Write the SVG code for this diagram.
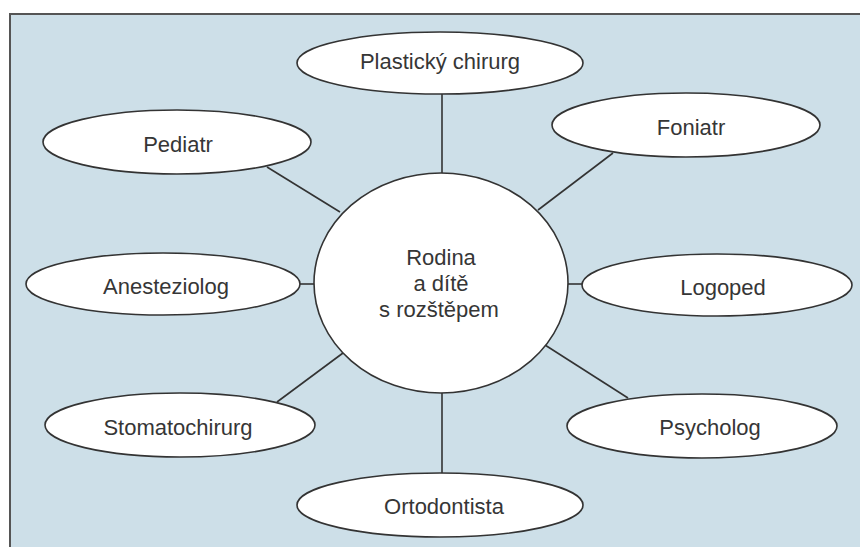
<svg xmlns="http://www.w3.org/2000/svg" width="860" height="547" viewBox="0 0 860 547">
<style>
.bg{fill:#cddfe8;stroke:none}
.frame{stroke:#555;stroke-width:2;fill:none}
.node ellipse{fill:#fff;stroke:#333;stroke-width:1.6}
.node text{font-family:"Liberation Sans",Arial,sans-serif;font-size:22px;fill:#363636;text-anchor:middle}
#connectors line{stroke:#333;stroke-width:1.6}
</style>
<rect class="bg" x="10" y="14" width="850" height="533"/>
<path class="frame" d="M10,547 V14 H860"/>
<g id="connectors">
<line x1="442" y1="94" x2="442" y2="173"/>
<line x1="442" y1="393" x2="442" y2="473"/>
<line x1="267" y1="167" x2="340" y2="212"/>
<line x1="613" y1="153" x2="538" y2="210"/>
<line x1="299" y1="284" x2="315" y2="284"/>
<line x1="567" y1="284" x2="582" y2="284"/>
<line x1="277" y1="402" x2="343" y2="353"/>
<line x1="545" y1="345" x2="628" y2="398"/>
</g>
<g id="center" class="node">
<ellipse cx="441" cy="283" rx="127" ry="110"/>
<text x="441" y="265">Rodina</text>
<text x="441" y="291">a dítě</text>
<text x="439" y="317">s rozštěpem</text>
</g>
<g id="plasticky" class="node">
<ellipse cx="440" cy="63" rx="143" ry="31"/>
<text x="440" y="69">Plastický chirurg</text>
</g>
<g id="pediatr" class="node">
<ellipse cx="177" cy="142" rx="134" ry="32"/>
<text x="178" y="152">Pediatr</text>
</g>
<g id="foniatr" class="node">
<ellipse cx="686" cy="125" rx="134" ry="32"/>
<text x="691" y="135">Foniatr</text>
</g>
<g id="anesteziolog" class="node">
<ellipse cx="163" cy="284" rx="137" ry="31"/>
<text x="166" y="294">Anesteziolog</text>
</g>
<g id="logoped" class="node">
<ellipse cx="717" cy="285" rx="135" ry="31"/>
<text x="723" y="295">Logoped</text>
</g>
<g id="stomatochirurg" class="node">
<ellipse cx="180" cy="425" rx="135" ry="32"/>
<text x="178" y="435">Stomatochirurg</text>
</g>
<g id="psycholog" class="node">
<ellipse cx="702" cy="426" rx="135" ry="32"/>
<text x="710" y="435">Psycholog</text>
</g>
<g id="ortodontista" class="node">
<ellipse cx="440" cy="505" rx="143" ry="32"/>
<text x="444" y="514">Ortodontista</text>
</g>
</svg>
